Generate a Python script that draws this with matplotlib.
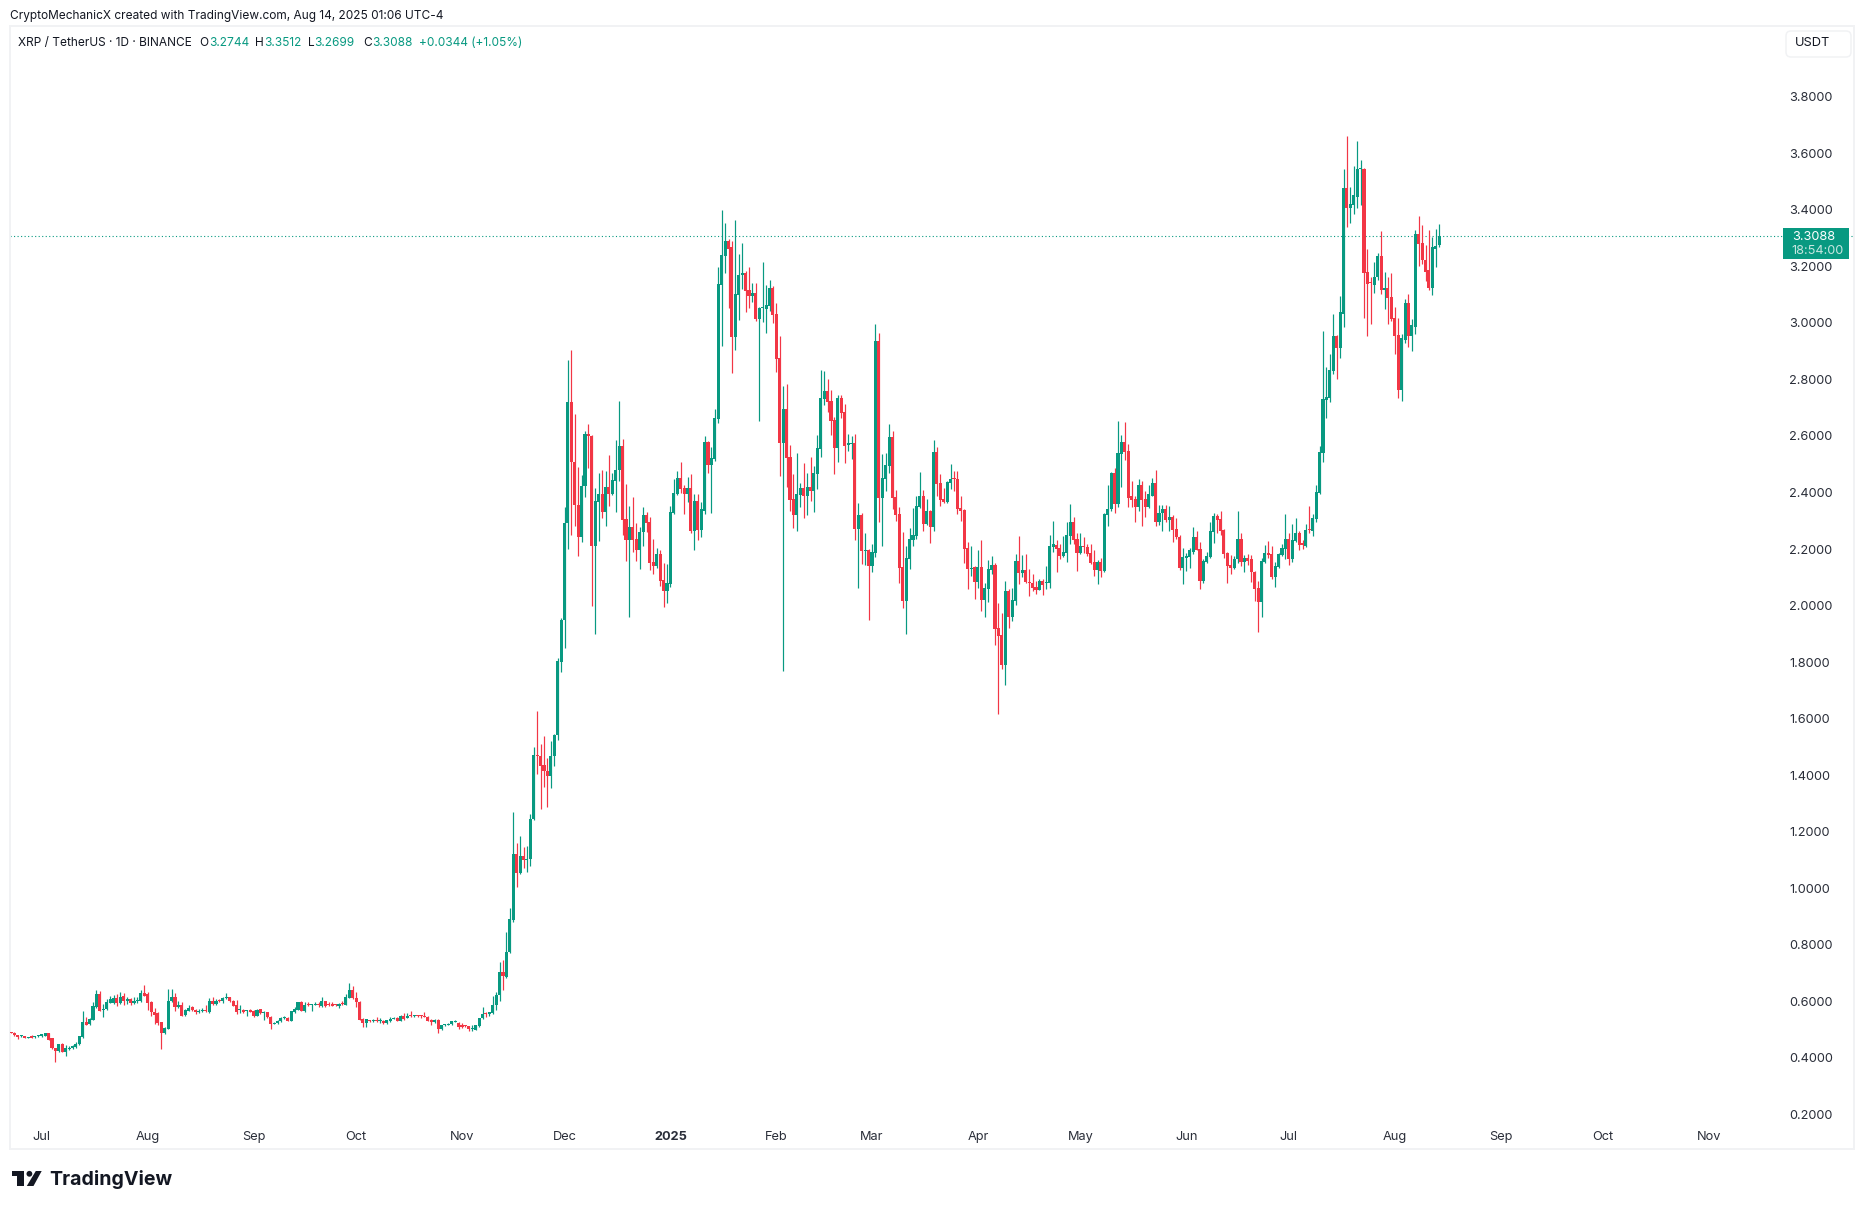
import matplotlib
matplotlib.use('Agg')
import matplotlib.pyplot as plt
from matplotlib.patches import Rectangle, Polygon, Circle, FancyBboxPatch
import numpy as np

plt.rcParams['font.family'] = ['Inter', 'DejaVu Sans']

# daily candles XRP/USDT, 2024-06-22 to 2025-08-14
opens = [
 .490,.489,.479,.475,.477,.470,.475,.472,.475,.476,
 .477,.487,.468,.434,.423,.449,.420,.430,.435,.437,
 .448,.472,.528,.518,.535,.579,.627,.568,.572,.594,
 .594,.610,.595,.620,.600,.606,.593,.600,.599,.629,
 .626,.597,.563,.557,.525,.486,.502,.600,.616,.579,
 .585,.551,.567,.579,.570,.561,.564,.567,.561,.599,
 .590,.602,.599,.610,.614,.601,.588,.568,.570,.564,
 .570,.567,.547,.571,.558,.560,.545,.520,.522,.529,
 .540,.542,.531,.560,.570,.596,.564,.590,.587,.588,
 .590,.583,.600,.590,.590,.589,.582,.593,.588,.612,
 .641,.613,.597,.536,.522,.533,.530,.533,.530,.531,
 .522,.529,.538,.541,.531,.549,.541,.548,.546,.549,
 .549,.548,.545,.534,.525,.534,.500,.515,.517,.519,
 .527,.524,.514,.514,.511,.501,.499,.511,.540,.557,
 .555,.557,.585,.621,.705,.687,.773,.889,1.121,1.053,
 1.115,1.099,1.102,1.244,1.472,1.469,1.434,1.416,1.396,1.467,
 1.541,1.799,1.949,2.291,2.722,2.509,2.357,2.241,2.422,2.608,
 2.601,2.210,2.368,2.393,2.332,2.421,2.396,2.442,2.481,2.566,
 2.308,2.233,2.279,2.237,2.198,2.259,2.322,2.297,2.155,2.141,
 2.184,2.092,2.053,2.077,2.329,2.396,2.453,2.417,2.396,2.417,
 2.265,2.371,2.269,2.336,2.577,2.499,2.520,2.661,3.136,3.238,
 3.291,3.267,2.952,3.100,3.168,3.178,3.118,3.097,3.107,3.015,
 3.052,3.051,3.061,3.125,3.033,2.877,2.576,2.697,2.527,2.378,
 2.321,2.392,2.417,2.389,2.421,2.406,2.467,2.555,2.732,2.760,
 2.725,2.658,2.559,2.736,2.686,2.568,2.573,2.576,2.272,2.321,
 2.194,2.198,2.141,2.187,2.937,2.382,2.449,2.495,2.598,2.385,
 2.325,2.137,2.017,2.166,2.233,2.247,2.350,2.389,2.290,2.336,
 2.279,2.544,2.435,2.378,2.368,2.435,2.449,2.449,2.346,2.339,
 2.205,2.130,2.137,2.084,2.137,2.021,2.059,2.127,2.145,1.922,
 1.897,1.791,2.053,1.961,2.017,2.159,2.116,2.127,2.085,2.081,
 2.067,2.056,2.088,2.080,2.081,2.208,2.216,2.205,2.177,2.187,
 2.247,2.294,2.237,2.187,2.212,2.208,2.187,2.155,2.127,2.155,
 2.124,2.322,2.340,2.470,2.361,2.538,2.580,2.548,2.386,2.378,
 2.350,2.428,2.378,2.350,2.389,2.432,2.294,2.328,2.340,2.304,
 2.315,2.272,2.244,2.134,2.170,2.173,2.191,2.244,2.201,2.088,
 2.155,2.173,2.262,2.318,2.308,2.269,2.187,2.145,2.134,2.163,
 2.237,2.155,2.170,2.163,2.120,2.063,2.014,2.155,2.187,2.184,
 2.102,2.138,2.180,2.201,2.237,2.166,2.230,2.255,2.218,2.212,
 2.269,2.265,2.308,2.400,2.541,2.729,2.736,2.831,2.955,2.913,
 3.033,3.479,3.408,3.419,3.447,3.544,3.546,3.182,3.143,3.136,
 3.161,3.238,3.118,3.125,3.093,3.019,2.959,2.764,2.941,3.069,
 2.955,2.987,3.316,3.284,3.224,3.186,3.125,3.263,3.2744]
highs = [
 .492,.490,.481,.479,.478,.474,.482,.476,.479,.485,
 .488,.489,.470,.436,.450,.451,.446,.440,.445,.455,
 .476,.567,.543,.540,.596,.638,.635,.590,.607,.620,
 .622,.626,.634,.630,.616,.612,.614,.616,.638,.659,
 .632,.600,.576,.561,.528,.508,.643,.643,.628,.600,
 .596,.572,.585,.584,.572,.574,.575,.585,.611,.616,
 .608,.606,.616,.629,.616,.603,.605,.585,.572,.569,
 .572,.569,.572,.574,.567,.562,.547,.526,.533,.545,
 .546,.544,.565,.580,.597,.599,.596,.596,.590,.596,
 .596,.614,.602,.597,.596,.591,.592,.600,.626,.666,
 .655,.634,.600,.541,.538,.535,.537,.545,.541,.534,
 .535,.545,.545,.543,.550,.557,.557,.567,.551,.551,
 .551,.563,.547,.536,.536,.536,.515,.519,.522,.530,
 .532,.526,.524,.516,.513,.517,.515,.541,.581,.560,
 .563,.620,.634,.740,.747,.846,.928,1.271,1.161,1.186,
 1.147,1.150,1.263,1.501,1.628,1.511,1.540,1.459,1.522,1.547,
 1.816,1.957,2.350,2.870,2.906,2.679,2.492,2.463,2.619,2.644,
 2.605,2.417,2.470,2.481,2.477,2.531,2.470,2.587,2.725,2.591,
 2.431,2.354,2.385,2.293,2.279,2.350,2.332,2.315,2.237,2.205,
 2.198,2.152,2.148,2.354,2.449,2.477,2.509,2.428,2.456,2.467,
 2.396,2.396,2.368,2.601,2.584,2.562,2.697,3.199,3.398,3.352,
 3.298,3.291,3.366,3.245,3.284,3.185,3.199,3.143,3.143,3.058,
 3.214,3.136,3.153,3.132,3.072,2.955,2.778,2.785,2.569,2.467,
 2.541,2.435,2.506,2.470,2.527,2.495,2.605,2.835,2.831,2.803,
 2.764,2.668,2.746,2.746,2.714,2.608,2.601,2.608,2.364,2.329,
 2.258,2.201,2.219,2.998,2.966,2.537,2.541,2.644,2.619,2.410,
 2.350,2.261,2.212,2.276,2.346,2.389,2.474,2.410,2.378,2.339,
 2.587,2.562,2.467,2.417,2.440,2.502,2.477,2.477,2.389,2.343,
 2.226,2.212,2.141,2.198,2.233,2.081,2.162,2.177,2.150,2.010,
 1.975,2.088,2.058,2.063,2.184,2.247,2.180,2.184,2.131,2.113,
 2.088,2.095,2.095,2.141,2.251,2.300,2.233,2.219,2.247,2.294,
 2.361,2.315,2.258,2.255,2.241,2.219,2.219,2.198,2.160,2.170,
 2.329,2.428,2.474,2.485,2.654,2.605,2.651,2.570,2.439,2.389,
 2.449,2.439,2.407,2.428,2.453,2.478,2.357,2.357,2.357,2.354,
 2.322,2.311,2.251,2.205,2.187,2.205,2.279,2.265,2.226,2.163,
 2.191,2.297,2.329,2.325,2.336,2.272,2.191,2.180,2.177,2.336,
 2.255,2.180,2.184,2.180,2.123,2.088,2.170,2.216,2.230,2.212,
 2.155,2.187,2.219,2.325,2.255,2.290,2.311,2.265,2.233,2.290,
 2.354,2.325,2.428,2.566,2.973,2.845,2.891,3.033,2.958,3.097,
 3.546,3.660,3.482,3.557,3.645,3.575,3.550,3.263,3.161,3.217,
 3.249,3.327,3.182,3.161,3.175,3.058,3.019,2.962,3.086,3.104,
 3.015,3.330,3.380,3.345,3.277,3.330,3.305,3.334,3.3512]
lows = [
 .487,.478,.465,.473,.468,.469,.468,.471,.474,.474,
 .476,.463,.432,.384,.420,.419,.405,.427,.432,.435,
 .446,.470,.515,.516,.533,.577,.565,.543,.570,.592,
 .590,.582,.590,.586,.590,.586,.591,.593,.597,.617,
 .569,.549,.520,.514,.432,.484,.500,.598,.567,.577,
 .546,.549,.565,.566,.554,.557,.562,.561,.559,.585,
 .586,.596,.594,.608,.598,.583,.553,.557,.559,.549,
 .562,.545,.546,.556,.535,.542,.503,.518,.520,.527,
 .538,.530,.529,.558,.568,.565,.561,.583,.564,.585,
 .579,.581,.580,.582,.582,.584,.575,.585,.586,.610,
 .609,.579,.533,.508,.510,.528,.528,.528,.522,.520,
 .520,.527,.536,.529,.529,.535,.539,.544,.544,.544,
 .541,.543,.529,.514,.523,.489,.498,.513,.515,.517,
 .525,.503,.504,.510,.494,.496,.497,.509,.538,.543,
 .547,.555,.570,.600,.641,.683,.771,.879,1.003,1.050,
 1.070,1.056,1.077,1.242,1.403,1.279,1.357,1.286,1.353,1.431,
 1.523,1.764,1.849,2.201,2.248,2.280,2.174,2.224,2.383,2.486,
 2.000,1.898,2.230,2.309,2.283,2.354,2.390,2.332,2.439,2.248,
 2.159,1.961,2.191,2.159,2.131,2.212,2.262,2.127,2.113,2.134,
 2.070,1.996,2.010,2.065,2.325,2.390,2.400,2.325,2.368,2.255,
 2.198,2.233,2.244,2.325,2.470,2.329,2.513,2.647,2.920,3.175,
 3.054,2.824,2.906,3.012,3.121,3.037,3.054,3.075,3.008,2.654,
 3.005,2.966,3.044,3.001,2.828,2.460,1.769,2.421,2.336,2.275,
 2.265,2.350,2.311,2.321,2.371,2.332,2.414,2.527,2.711,2.686,
 2.605,2.467,2.509,2.665,2.506,2.548,2.520,2.233,2.063,2.148,
 2.144,1.950,2.120,2.173,2.297,2.212,2.406,2.470,2.343,2.300,
 2.081,1.992,1.900,2.130,2.212,2.237,2.345,2.265,2.285,2.222,
 2.265,2.389,2.353,2.364,2.364,2.414,2.406,2.325,2.300,2.152,
 2.059,2.106,2.024,2.063,1.982,1.960,2.013,2.113,1.861,1.615,
 1.777,1.720,1.922,1.946,2.003,2.077,2.102,2.079,2.035,2.053,
 2.042,2.054,2.039,2.060,2.063,2.191,2.117,2.163,2.172,2.155,
 2.219,2.219,2.124,2.182,2.187,2.177,2.148,2.106,2.078,2.102,
 2.117,2.283,2.336,2.329,2.350,2.421,2.516,2.350,2.347,2.297,
 2.333,2.283,2.315,2.345,2.386,2.283,2.286,2.265,2.294,2.265,
 2.226,2.237,2.127,2.078,2.124,2.134,2.184,2.195,2.060,2.081,
 2.152,2.170,2.223,2.258,2.251,2.170,2.081,2.110,2.130,2.152,
 2.141,2.117,2.145,2.085,2.017,1.907,1.961,2.150,2.170,2.095,
 2.067,2.134,2.175,2.163,2.145,2.155,2.225,2.195,2.201,2.208,
 2.255,2.247,2.297,2.393,2.509,2.662,2.722,2.821,2.803,2.877,
 2.987,3.341,3.352,3.384,3.405,3.419,3.019,2.955,2.998,3.107,
 3.153,3.104,3.051,2.998,3.008,2.891,2.736,2.725,2.930,2.916,
 2.899,2.962,3.203,3.207,3.150,3.115,3.100,3.199,3.2699]
closes = [
 .488,.479,.472,.478,.469,.473,.469,.475,.477,.483,
 .487,.464,.433,.423,.449,.420,.433,.435,.441,.449,
 .475,.528,.516,.538,.582,.627,.567,.573,.596,.608,
 .610,.594,.616,.599,.606,.593,.602,.602,.629,.620,
 .595,.561,.551,.522,.486,.504,.602,.616,.579,.585,
 .549,.570,.577,.568,.560,.565,.567,.564,.599,.590,
 .602,.600,.613,.613,.600,.584,.563,.570,.561,.567,
 .563,.547,.570,.558,.561,.543,.520,.524,.531,.541,
 .543,.531,.564,.574,.596,.567,.588,.588,.589,.590,
 .587,.599,.582,.587,.583,.586,.591,.589,.616,.641,
 .610,.596,.535,.522,.536,.530,.533,.529,.533,.522,
 .534,.537,.541,.531,.549,.537,.549,.546,.549,.546,
 .546,.544,.531,.525,.534,.500,.514,.517,.521,.529,
 .530,.508,.510,.511,.502,.503,.514,.541,.556,.555,
 .560,.587,.622,.705,.688,.775,.892,1.121,1.053,1.115,
 1.099,1.103,1.245,1.472,1.466,1.431,1.414,1.396,1.468,1.543,
 1.802,1.950,2.293,2.722,2.507,2.356,2.241,2.423,2.608,2.599,
 2.210,2.371,2.393,2.332,2.421,2.396,2.446,2.481,2.566,2.304,
 2.233,2.279,2.233,2.198,2.262,2.322,2.293,2.152,2.141,2.184,
 2.088,2.053,2.081,2.332,2.400,2.453,2.414,2.396,2.417,2.265,
 2.371,2.269,2.340,2.577,2.499,2.523,2.665,3.139,3.242,3.291,
 3.263,2.952,3.104,3.171,3.178,3.114,3.097,3.107,3.015,3.054,
 3.054,3.065,3.125,3.029,2.874,2.576,2.697,2.523,2.375,2.321,
 2.396,2.417,2.389,2.421,2.406,2.470,2.559,2.736,2.760,2.721,
 2.654,2.559,2.736,2.683,2.566,2.575,2.576,2.272,2.321,2.194,
 2.198,2.141,2.191,2.937,2.382,2.453,2.498,2.598,2.382,2.321,
 2.134,2.017,2.169,2.237,2.251,2.353,2.389,2.290,2.336,2.279,
 2.544,2.431,2.375,2.368,2.438,2.449,2.447,2.343,2.336,2.201,
 2.130,2.134,2.084,2.137,2.021,2.063,2.130,2.145,1.918,1.893,
 1.791,2.053,1.961,2.021,2.159,2.116,2.127,2.083,2.081,2.063,
 2.056,2.088,2.074,2.084,2.212,2.219,2.201,2.177,2.191,2.251,
 2.294,2.233,2.187,2.212,2.208,2.184,2.152,2.127,2.155,2.124,
 2.325,2.343,2.470,2.361,2.541,2.580,2.545,2.382,2.375,2.350,
 2.428,2.375,2.350,2.393,2.432,2.294,2.329,2.340,2.304,2.315,
 2.269,2.241,2.134,2.173,2.177,2.195,2.244,2.198,2.088,2.159,
 2.177,2.265,2.318,2.304,2.265,2.184,2.141,2.134,2.166,2.237,
 2.155,2.170,2.159,2.117,2.060,2.014,2.159,2.187,2.180,2.102,
 2.141,2.184,2.205,2.237,2.166,2.233,2.255,2.216,2.216,2.269,
 2.267,2.311,2.403,2.545,2.732,2.739,2.835,2.955,2.913,3.037,
 3.479,3.408,3.422,3.451,3.546,3.546,3.178,3.139,3.141,3.164,
 3.238,3.118,3.125,3.090,3.015,2.955,2.764,2.945,3.069,2.955,
 2.991,3.316,3.281,3.221,3.182,3.125,3.267,3.274,3.3088]

# month labels and the candle index they sit on
month_labels = ['Jul','Aug','Sep','Oct','Nov','Dec','2025','Feb','Mar','Apr','May','Jun','Jul','Aug','Sep','Oct','Nov']
month_pos = [9,40,71,101,132,162,193,224,252,283,313,344,374,405,436,466,497]
price_ticks = [0.2,0.4,0.6,0.8,1.0,1.2,1.4,1.6,1.8,2.0,2.2,2.4,2.6,2.8,3.0,3.2,3.4,3.6,3.8]

W, H = 1864, 1209
GREEN = '#089981'
RED = '#f23645'
DARK = '#131722'
TICK = '#2a2e39'
FRAME = '#f1f2f4'
px = 0.72  # one pixel in points at dpi 100

o = np.array(opens); h = np.array(highs); l = np.array(lows); c = np.array(closes)
x = np.arange(len(o))
colors = np.where(c >= o, GREEN, RED)

fig = plt.figure(figsize=(W/100, H/100), dpi=100, facecolor='white')

# pane in pixels: 10..1854 across, 26..1149 down
ax = fig.add_axes([10/W, 1-1149/H, 1844/W, 1123/H])
ax.set_xlim(-0.293, 539.4)
ax.set_ylim(0.0769, 4.0508)
for s in ax.spines.values():
    s.set_color(FRAME)
    s.set_linewidth(2*px)

ax.vlines(x, l, h, colors=colors, linewidth=1.2*px, zorder=2)
body = np.maximum(np.abs(c-o), 0.0036)
ax.bar(x, body, bottom=np.minimum(o, c), width=0.9, color=colors, linewidth=0, zorder=3)

# last price line
ax.axhline(c[-1], color=GREEN, linestyle=(0, (1, 2.2)), linewidth=1.1*px, zorder=1)

ax.yaxis.tick_right()
ax.set_yticks(price_ticks)
ax.set_yticklabels(['%.4f' % p for p in price_ticks])
ax.tick_params(axis='y', length=0, pad=-64.5*px, labelsize=9.2, labelcolor=TICK)
ax.set_xticks(month_pos)
ax.set_xticklabels(month_labels)
ax.tick_params(axis='x', length=0, pad=-18*px, labelsize=9.2, labelcolor=TICK)
ax.get_xticklabels()[6].set_fontweight('bold')

# overlay in image pixels for the header, price tag and logo
ov = fig.add_axes([0, 0, 1, 1], zorder=5)
ov.set_xlim(0, W); ov.set_ylim(H, 0); ov.axis('off')

ov.text(10, 15.5, 'CryptoMechanicX created with TradingView.com, Aug 14, 2025 01:06 UTC-4',
        fontsize=8.55, color=DARK, va='center')
ov.text(18, 43, 'XRP / TetherUS · 1D · BINANCE', fontsize=8.55, color=DARK, va='center')
for lx, lab, vx, val in [(199.7,'O',209.6,'3.2744'), (255,'H',263.7,'3.3512'),
                         (308.4,'L',314.4,'3.2699'), (363,'C',372.5,'3.3088')]:
    ov.text(lx, 43, lab, fontsize=8.55, color=DARK, va='center')
    ov.text(vx, 43, val, fontsize=8.55, color=GREEN, va='center')
ov.text(419, 43, '+0.0344 (+1.05%)', fontsize=8.55, color=GREEN, va='center')

# currency button
ov.add_patch(FancyBboxPatch((1786, 31), 65, 26, boxstyle='round,pad=0,rounding_size=5',
                            facecolor='white', edgecolor=FRAME, linewidth=1.5*px))
ov.text(1795, 43.5, 'USDT', fontsize=9.2, color=DARK, va='center')

# price tag
ov.add_patch(Rectangle((1783, 228), 66, 31, facecolor=GREEN, edgecolor='none'))
ov.text(1791.7, 236.8, '3.3088', fontsize=9.2, color='white', va='center')
ov.text(1791.7, 250.8, '18:54:00', fontsize=9.2, color='#c6e6e0', va='center')

# logo
ov.add_patch(Polygon([(12,1171),(24,1171),(24,1186),(17.3,1186),(17.3,1176),(12,1176)], facecolor=DARK, edgecolor='none'))
ov.add_patch(Circle((29.4,1173.8), 2.9, facecolor=DARK, edgecolor='none'))
ov.add_patch(Polygon([(35.8,1171),(41.7,1171),(33.5,1186),(26.8,1186)], facecolor=DARK, edgecolor='none'))
ov.text(49, 1179.5, 'TradingView', fontsize=14.1, fontweight='bold', color=DARK, va='center')

fig.savefig('out.png', dpi=100)
